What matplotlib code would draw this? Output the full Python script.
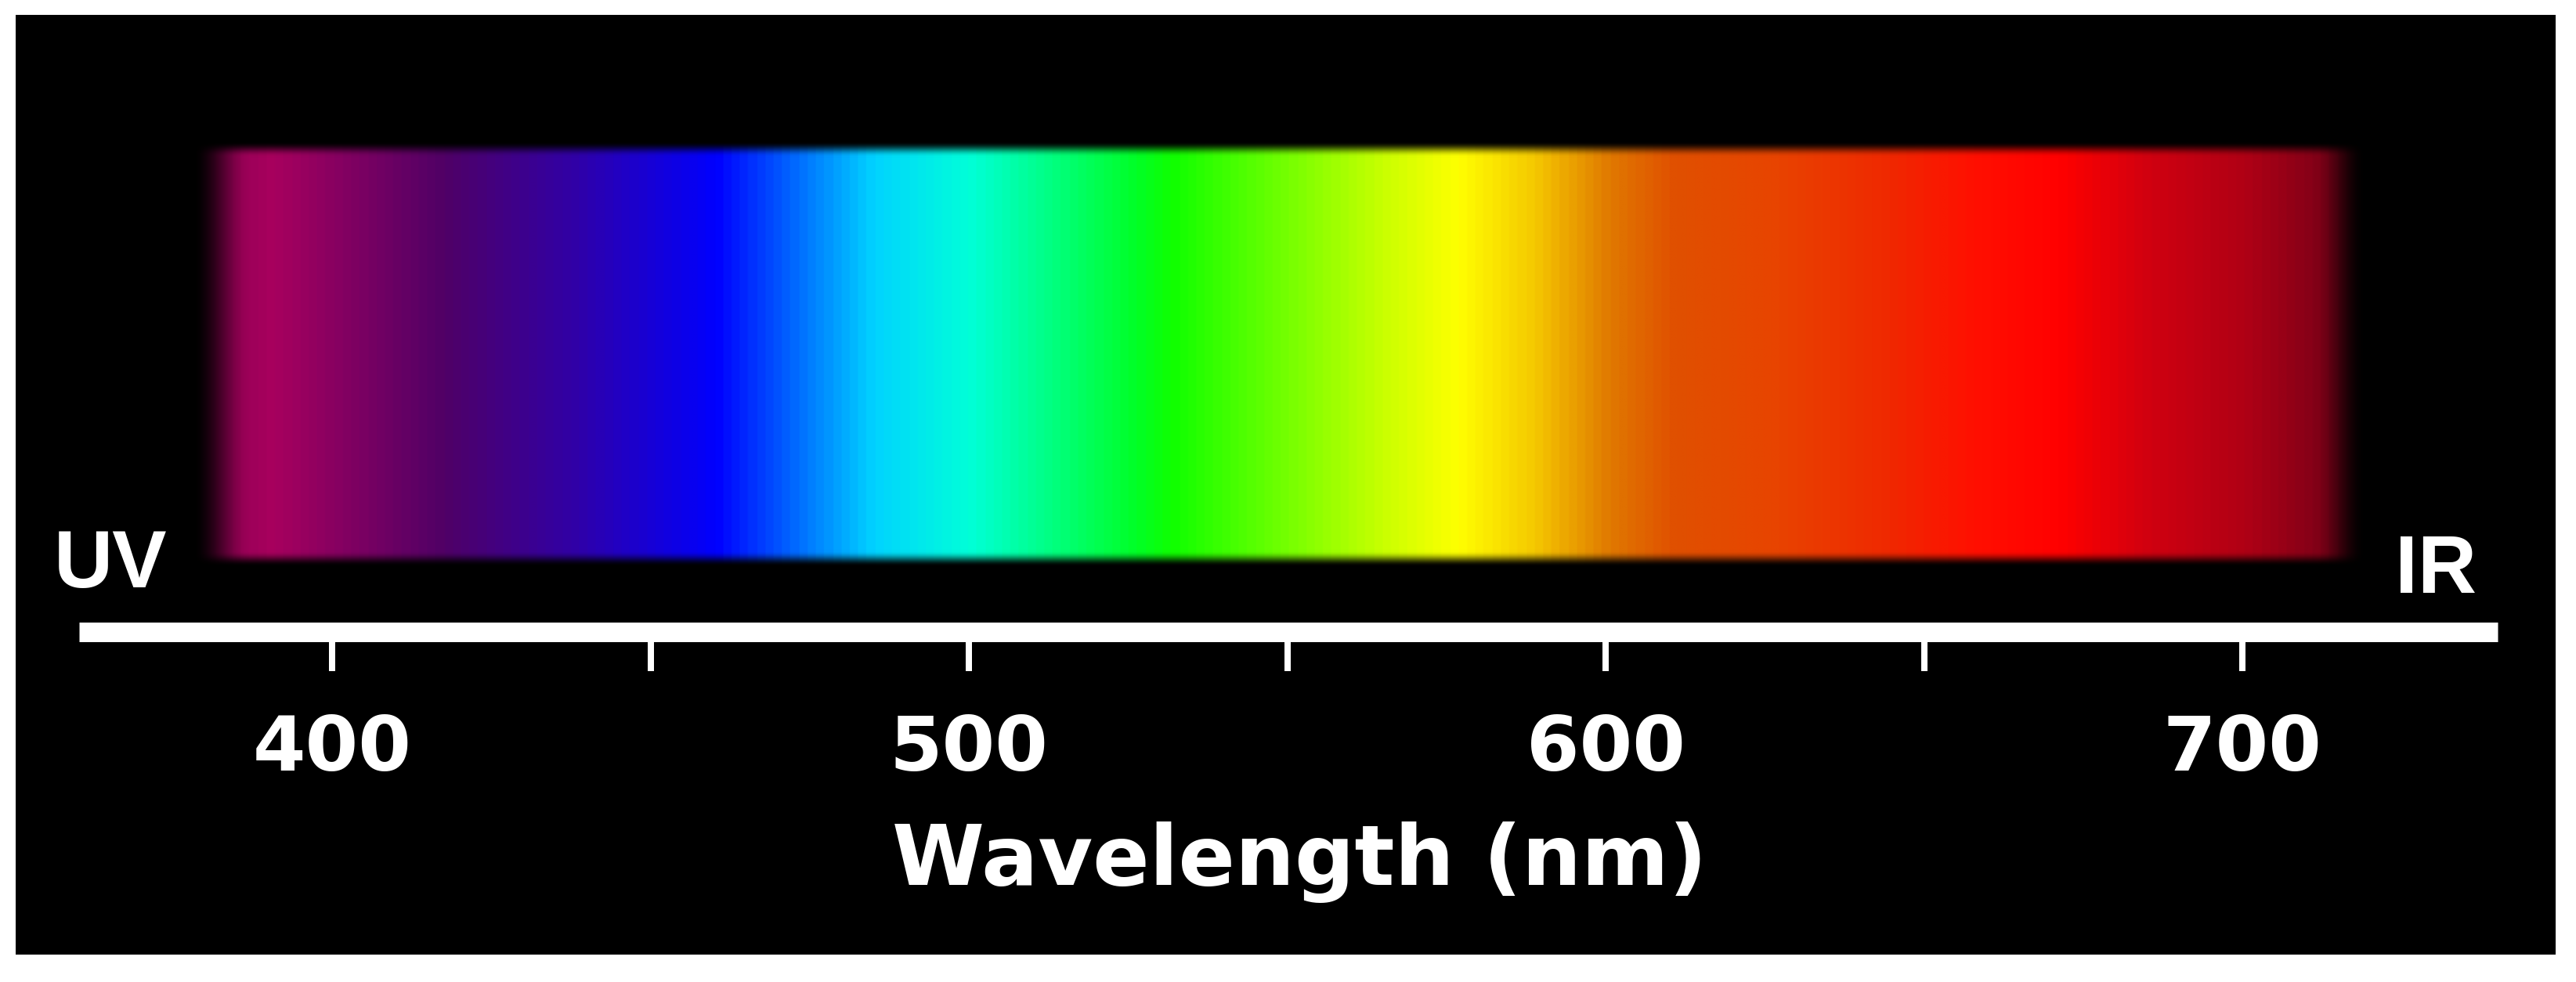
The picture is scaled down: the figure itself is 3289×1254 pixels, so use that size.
import numpy as np
import matplotlib
matplotlib.use("Agg")
import matplotlib.pyplot as plt
from matplotlib.colors import LinearSegmentedColormap

# ---- data ----
spectrum_nm = [379, 390, 417, 438, 460, 485, 500, 526, 532, 552, 565, 577, 589, 601, 611,
               627, 645, 658, 672, 686, 701, 713, 719]
spectrum_hex = ["#8A0050", "#A8005E", "#500066", "#3000A8", "#0000FF", "#00D4FF", "#00FFD8",
                "#00FF28", "#10FF00", "#80FF00", "#C8FF00", "#FFFF00", "#F5C800", "#E07800",
                "#E05000", "#E84400", "#F02800", "#FF1000", "#FF0000", "#D00010", "#B00015",
                "#800018", "#600015"]
spectrum_start, spectrum_end = 378.0, 719.5
axis_start, axis_end = 360.3, 740.1
major_ticks = [400, 500, 600, 700]
minor_ticks = [450, 550, 650]
tick_labels = ["400", "500", "600", "700"]
xlabel = "Wavelength (nm)"
left_label, right_label = "UV", "IR"

W, H = 3289, 1254
fig = plt.figure(figsize=(W / 100, H / 100), dpi=100, facecolor="white")
ax = fig.add_axes([20 / W, 1 - 1219 / H, 3243 / W, 1200 / H])
ax.set_facecolor("black")
for s in ax.spines.values():
    s.set_visible(False)
ax.set_xticks([])
ax.set_yticks([])

# spectrum image
pos = np.array([(v - spectrum_nm[0]) / (spectrum_nm[-1] - spectrum_nm[0]) for v in spectrum_nm])
cmap = LinearSegmentedColormap.from_list("spec", list(zip(pos, spectrum_hex)))
ncol, nrow = 1600, 240
lam = np.linspace(spectrum_start, spectrum_end, ncol)
rgb = cmap(np.clip((lam - spectrum_nm[0]) / (spectrum_nm[-1] - spectrum_nm[0]), 0, 1))[:, :3]

def smooth(t):
    t = np.clip(t, 0, 1)
    return t * t * (3 - 2 * t)

ax_alpha = smooth((lam - spectrum_start) / 9.0) * smooth((spectrum_end - lam) / 8.0)
rows = np.linspace(0, 1, nrow)
ay_alpha = smooth(rows / 0.035) * smooth((1 - rows) / 0.035)
img = np.zeros((nrow, ncol, 4))
img[:, :, :3] = rgb[None, :, :]
img[:, :, 3] = ay_alpha[:, None] * ax_alpha[None, :]
ax.imshow(img, extent=[spectrum_start, spectrum_end, 724, 180], aspect="auto",
          interpolation="bilinear", origin="upper", zorder=1)

# axis line and ticks
ax.hlines(806.5, axis_start, axis_end, color="white", linewidth=25 * 0.72, capstyle="butt", zorder=3)
ax.vlines(major_ticks + minor_ticks, 819, 857, color="white", linewidth=8 * 0.72, zorder=3)

for t, lab in zip(major_ticks, tick_labels):
    ax.text(t, 984, lab, ha="center", va="baseline", color="white",
            fontsize=70, fontweight="bold", family="DejaVu Sans")

ax.text(552, 1130, xlabel, ha="center", va="baseline", color="white",
        fontsize=77, fontweight="bold", family="DejaVu Sans")

ax.text(356.3, 750, left_label, ha="left", va="baseline", color="white",
        fontsize=75, fontweight="bold", family="Liberation Sans")
ax.text(724.0, 757, right_label, ha="left", va="baseline", color="white",
        fontsize=75, fontweight="bold", family="Liberation Sans")

ax.set_xlim(350.3, 749.2)
ax.set_ylim(1219, 19)

fig.savefig("out.png", dpi=100, facecolor="white")
